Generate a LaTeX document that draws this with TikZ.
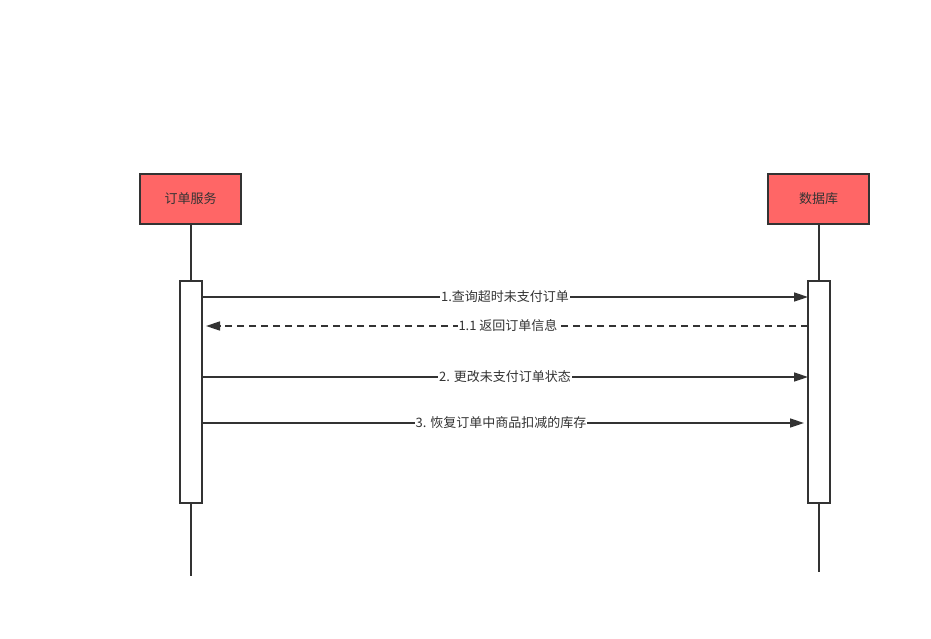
\documentclass[tikz,border=0pt]{standalone}
\usepackage{fontspec}
\setmainfont{Noto Sans CJK SC}
\usetikzlibrary{arrows.meta}
\definecolor{ln}{HTML}{333333}
\definecolor{actor}{HTML}{FF6666}
\tikzset{
  actorbox/.style={draw=ln,line width=2pt,fill=actor,minimum width=101pt,minimum height=50pt,inner sep=0pt,text=ln,font=\fontsize{13}{15}\selectfont},
  actbar/.style={draw=ln,line width=2pt,fill=white,minimum width=22pt,minimum height=222pt,inner sep=0pt},
  life/.style={draw=ln,line width=2pt},
  msg/.style={draw=ln,line width=1.6pt,-{Triangle[length=14pt,width=9pt]}},
  ret/.style={msg,dash pattern=on 7pt off 5pt},
  lbl/.style={fill=white,text=ln,inner sep=1pt,font=\fontsize{13}{15}\selectfont}
}
\begin{document}
\begin{tikzpicture}[x=1pt,y=-1pt]
\useasboundingbox (0,0) rectangle (931,638);
\node[actorbox] (a) at (190.5,199) {订单服务};
\node[actorbox] (b) at (818.5,199) {数据库};
\node[actbar] (ab) at (191,392) {};
\node[actbar] (bb) at (819,392) {};
\coordinate (aend) at (191,576);
\coordinate (bend) at (819,572);
\draw[life] (ab.north |- a.south) -- (ab.north);
\draw[life] (ab.south) -- (aend);
\draw[life] (bb.north |- b.south) -- (bb.north);
\draw[life] (bb.south) -- (bend);
\coordinate (m1s) at (202,297); \coordinate (m1e) at (808,297);
\coordinate (m2s) at (808,326); \coordinate (m2e) at (206,326);
\coordinate (m3s) at (202,377); \coordinate (m3e) at (808,377);
\coordinate (m4s) at (202,423); \coordinate (m4e) at (804,423);
\draw[msg] (m1s) -- (m1e);
\node[lbl] (l1) at (505,297) {1.查询超时未支付订单};
\draw[ret] (m2s) -- (m2e);
\node[lbl] (l2) at (508,326) {1.1 返回订单信息};
\draw[msg] (m3s) -- (m3e);
\node[lbl] (l3) at (505,377) {2. 更改未支付订单状态};
\draw[msg] (m4s) -- (m4e);
\node[lbl] (l4) at (501,423) {3. 恢复订单中商品扣减的库存};
\end{tikzpicture}
\end{document}
